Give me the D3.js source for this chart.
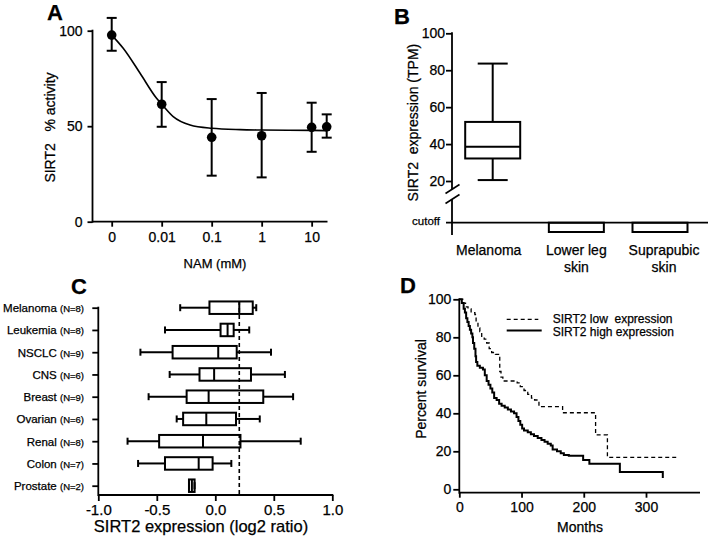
<!DOCTYPE html>
<html><head><meta charset="utf-8">
<script src="https://cdn.jsdelivr.net/npm/d3@7/dist/d3.min.js"></script>
<style>
body{margin:0;background:#fff}
svg{display:block;font-family:"Liberation Sans",Arial,Helvetica,sans-serif}
text{fill:#000;stroke:#000;stroke-width:0.25px}
</style></head><body>
<svg id="chart" width="709" height="536"></svg>
<script>
// ---------- Panel A: SIRT2 activity vs NAM dose ----------
const doseTickLabels = ["0", "0.01", "0.1", "1", "10"];
const doseTickValues = [0, 0.01, 0.1, 1, 10];
const doses = [0, 0.01, 0.1, 1, 10, 20];
const activityMean = [97.7, 61.5, 44.2, 45.0, 49.4, 49.7];
const activityHigh = [106.7, 73.1, 64.2, 67.4, 62.3, 56.2];
const activityLow = [89.5, 49.7, 24.1, 23.2, 36.6, 44.0];
const fitDose = [0, 0.0017, 0.0037, 0.0079, 0.01, 0.017, 0.037, 0.1, 0.37, 1, 10, 20];
const fitActivity = [97.7, 90.8, 77.7, 64.6, 61.5, 55.0, 50.6, 48.9, 48.2, 48.0, 47.8, 47.7];
const activityTicks = [0, 50, 100];

// ---------- Panel B: SIRT2 expression in tissues ----------
const tissueCats = ["Melanoma", "Lower leg skin", "Suprapubic skin"];
const tissueLabelLines = [["Melanoma"], ["Lower leg", "skin"], ["Suprapubic", "skin"]];
const melanomaBox = [20.5, 32.2, 38.6, 52.0, 83.6]; // min, q1, median, q3, max
const belowCutoff = [0, 1, 1];
const tpmTicks = [20, 40, 60, 80, 100];

// ---------- Panel C: NCI-60 log2 ratio ----------
const cancerTypes = ["Melanoma", "Leukemia", "NSCLC", "CNS", "Breast", "Ovarian", "Renal", "Colon", "Prostate"];
const cancerN = [8, 8, 9, 6, 9, 6, 8, 7, 2];
const cMin = [-0.30, -0.43, -0.64, -0.39, -0.57, -0.33, -0.75, -0.66, -0.225];
const cQ1 = [-0.05, 0.045, -0.365, -0.135, -0.245, -0.275, -0.48, -0.43, -0.225];
const cMed = [0.205, 0.105, 0.025, -0.01, -0.057, -0.077, -0.105, -0.142, -0.20];
const cQ3 = [0.32, 0.157, 0.183, 0.305, 0.41, 0.177, 0.215, -0.023, -0.177];
const cMax = [0.35, 0.29, 0.476, 0.595, 0.665, 0.38, 0.73, 0.137, -0.177];
const log2Cutoff = 0.205;
const log2Ticks = [-1.0, -0.5, 0.0, 0.5, 1.0];

// ---------- Panel D: survival ----------
const highMonths = [0, 4, 7, 9, 11, 13, 15, 17, 19, 21, 22, 24, 26, 27, 29, 33, 38, 41, 44, 47, 50, 53, 56, 60, 64, 68, 73, 78, 83, 88, 92, 95, 98, 101, 104, 110, 115, 120, 126, 132, 137, 142, 147, 150, 157, 163, 168, 176, 199, 209, 258, 327];
const highSurv = [100, 98, 95, 93, 90, 88, 86, 84, 82, 80, 77, 74, 70, 67, 65, 64, 63, 60, 57, 55, 53, 51, 48, 47, 45, 44, 43, 42, 41, 40, 38, 36, 34, 32, 31, 30, 29, 28, 27, 26, 25, 24, 23, 21, 20, 19, 18, 17.7, 15.4, 13.5, 9.1, 6.0];
const lowMonths = [0, 6, 10, 14, 19, 25, 27, 30, 33, 36, 40, 44, 48, 52, 58, 65, 67, 70, 93, 98, 104, 110, 116, 121, 128, 166, 219, 238, 352];
const lowSurv = [100, 98, 96, 95, 93, 92, 88, 85, 83, 80, 79, 77, 74, 72, 71, 62, 59, 57, 56, 54, 52, 50, 48, 47, 43.5, 40.3, 28.6, 16.8, 16.8];
const monthTicks = [0, 100, 200, 300];
const survTicks = [0, 20, 40, 60, 80, 100];
const legendLabels = ["SIRT2 low  expression", "SIRT2 high expression"];

const svg = d3.select("#chart");
const AX = 1.8;

function panelLabel(t, x, y) {
  svg.append("text").attr("x", x).attr("y", y).text(t)
    .attr("font-size", 22).attr("font-weight", "bold");
}
function styleAxis(g, fs) {
  g.select(".domain").remove();
  g.selectAll(".tick line").attr("stroke", "#000").attr("stroke-width", AX);
  g.selectAll(".tick text").attr("font-size", fs).attr("fill", "#000").attr("font-family", null);
}

// ================= Panel A =================
(function () {
  const zeroPos = 0.001;
  const x = d3.scaleLog().domain([zeroPos, 20]).range([111.7, 326.7]);
  const xp = d => x(d === 0 ? zeroPos : d);
  const y = d3.scaleLinear().domain([0, 100]).range([221.7, 30.7]);
  const g = svg.append("g");
  g.append("line").attr("x1", 92.5).attr("x2", 92.5).attr("y1", y(100) - 1).attr("y2", y(0) + 1)
    .attr("stroke", "#000").attr("stroke-width", AX);
  g.append("line").attr("x1", 92.5).attr("x2", 327.5).attr("y1", y(0)).attr("y2", y(0))
    .attr("stroke", "#000").attr("stroke-width", AX);
  const ya = g.append("g").attr("transform", "translate(92.5,0)")
    .call(d3.axisLeft(y).tickValues(activityTicks).tickSize(5).tickPadding(5).tickFormat(d3.format("d")));
  styleAxis(ya, 14);
  const xg = g.append("g").attr("transform", `translate(0,${y(0)})`);
  const xaxis = d3.axisBottom(x).tickValues(doseTickValues.map(d => d === 0 ? zeroPos : d))
    .tickSize(5).tickPadding(5).tickFormat((d, i) => doseTickLabels[i]);
  xg.call(xaxis);
  styleAxis(xg, 14);
  const line = d3.line().x((d, i) => xp(fitDose[i])).y((d, i) => y(fitActivity[i])).curve(d3.curveMonotoneX);
  g.append("path").attr("d", line(fitDose)).attr("fill", "none").attr("stroke", "#000").attr("stroke-width", 1.6);
  doses.forEach((d, i) => {
    const cx = xp(d);
    g.append("line").attr("x1", cx).attr("x2", cx).attr("y1", y(activityHigh[i])).attr("y2", y(activityLow[i]))
      .attr("stroke", "#000").attr("stroke-width", 2);
    [activityHigh[i], activityLow[i]].forEach(v => {
      g.append("line").attr("x1", cx - 5).attr("x2", cx + 5).attr("y1", y(v)).attr("y2", y(v))
        .attr("stroke", "#000").attr("stroke-width", 2);
    });
    g.append("circle").attr("cx", cx).attr("cy", y(activityMean[i])).attr("r", 4.8).attr("fill", "#000");
  });
  g.append("text").attr("transform", "translate(55,127.5) rotate(-90)").attr("text-anchor", "middle")
    .attr("font-size", 14).style("white-space", "pre").text("SIRT2   % activity");
  g.append("text").attr("x", 215).attr("y", 268).attr("text-anchor", "middle")
    .attr("font-size", 13).text("NAM (mM)");
  panelLabel("A", 47, 19.5);
})();

// ================= Panel B =================
(function () {
  const x = d3.scalePoint().domain(tissueCats).range([492.7, 660]);
  const y = d3.scaleLinear().domain([20, 100]).range([181, 33.3]);
  const yLow = d3.scaleLinear().domain([1, 0]).range([232, 222.7]);
  const g = svg.append("g");
  const ax = 452;
  g.append("line").attr("x1", ax).attr("x2", ax).attr("y1", y(100) - 1).attr("y2", 189)
    .attr("stroke", "#000").attr("stroke-width", AX);
  g.append("line").attr("x1", ax).attr("x2", ax).attr("y1", 199).attr("y2", 235)
    .attr("stroke", "#000").attr("stroke-width", AX);
  g.append("line").attr("x1", 445.5).attr("x2", 459.5).attr("y1", 193.5).attr("y2", 184.5).attr("stroke", "#000").attr("stroke-width", 1.6);
  g.append("line").attr("x1", 445.5).attr("x2", 459.5).attr("y1", 203.5).attr("y2", 194.5).attr("stroke", "#000").attr("stroke-width", 1.6);
  const ya = g.append("g").attr("transform", `translate(${ax},0)`)
    .call(d3.axisLeft(y).tickValues(tpmTicks).tickSize(6).tickPadding(1));
  styleAxis(ya, 14);
  g.append("line").attr("x1", 446).attr("x2", 708).attr("y1", yLow(0)).attr("y2", yLow(0))
    .attr("stroke", "#000").attr("stroke-width", AX);
  g.append("text").attr("x", 440).attr("y", yLow(0) + 2).attr("text-anchor", "end")
    .attr("font-size", 11.5).text("cutoff");
  const cx = x(tissueCats[0]), bw = 55;
  const [mn, q1, md, q3, mx] = melanomaBox;
  g.append("line").attr("x1", cx).attr("x2", cx).attr("y1", y(mx)).attr("y2", y(q3)).attr("stroke", "#000").attr("stroke-width", 2);
  g.append("line").attr("x1", cx).attr("x2", cx).attr("y1", y(q1)).attr("y2", y(mn)).attr("stroke", "#000").attr("stroke-width", 2);
  [mn, mx].forEach(v => g.append("line").attr("x1", cx - 15).attr("x2", cx + 15).attr("y1", y(v)).attr("y2", y(v)).attr("stroke", "#000").attr("stroke-width", 2));
  g.append("rect").attr("x", cx - bw / 2).attr("y", y(q3)).attr("width", bw).attr("height", y(q1) - y(q3))
    .attr("fill", "none").attr("stroke", "#000").attr("stroke-width", 2);
  g.append("line").attr("x1", cx - bw / 2).attr("x2", cx + bw / 2).attr("y1", y(md)).attr("y2", y(md)).attr("stroke", "#000").attr("stroke-width", 2);
  tissueCats.forEach((c, i) => {
    if (!belowCutoff[i]) return;
    g.append("rect").attr("x", x(c) - bw / 2).attr("y", yLow(0)).attr("width", bw).attr("height", yLow(belowCutoff[i]) - yLow(0))
      .attr("fill", "none").attr("stroke", "#000").attr("stroke-width", 2);
  });
  tissueCats.forEach((c, i) => {
    const lx = x(c) - (i === 0 ? 4 : 0) + (i === 2 ? 4 : 0);
    const t = g.append("text").attr("x", lx).attr("y", 255).attr("text-anchor", "middle").attr("font-size", 14);
    tissueLabelLines[i].forEach((ln, j) => t.append("tspan").attr("x", lx).attr("dy", j ? 17 : 0).text(ln));
  });
  g.append("text").attr("transform", "translate(418,122.6) rotate(-90)").attr("text-anchor", "middle")
    .attr("font-size", 14).style("white-space", "pre").text("SIRT2  expression (TPM)");
  panelLabel("B", 394, 24);
})();

// ================= Panel C =================
(function () {
  const x = d3.scaleLinear().domain([-1, 1]).range([98.3, 332.3]);
  const y = d3.scalePoint().domain(cancerTypes).range([307.7, 485.7]);
  const g = svg.append("g");
  const axY = 495;
  g.append("line").attr("x1", x(-1)).attr("x2", x(-1)).attr("y1", y(cancerTypes[0]) - 1).attr("y2", axY + 1)
    .attr("stroke", "#000").attr("stroke-width", AX);
  g.append("line").attr("x1", x(-1)).attr("x2", x(1) + 1).attr("y1", axY).attr("y2", axY)
    .attr("stroke", "#000").attr("stroke-width", AX);
  const ya = g.append("g").attr("transform", `translate(${x(-1)},0)`)
    .call(d3.axisLeft(y).tickSize(6).tickFormat(""));
  styleAxis(ya, 12);
  const xa = g.append("g").attr("transform", `translate(0,${axY})`)
    .call(d3.axisBottom(x).tickValues(log2Ticks).tickSize(6).tickPadding(3).tickFormat(d3.format(".1f")));
  styleAxis(xa, 15);
  xa.selectAll(".tick text").text(d => d3.format(".1f")(d).replace("−", "-"));
  cancerTypes.forEach((c, i) => {
    const t = g.append("text").attr("x", 84).attr("y", y(c) + 4.5).attr("text-anchor", "end").attr("font-size", 11.5);
    t.append("tspan").text(c + " ");
    t.append("tspan").attr("font-size", 9.5).text(`(N=${cancerN[i]})`);
  });
  const bh = 12.5;
  cancerTypes.forEach((c, i) => {
    const cy = y(c);
    g.append("line").attr("x1", x(cMin[i])).attr("x2", x(cQ1[i])).attr("y1", cy).attr("y2", cy).attr("stroke", "#000").attr("stroke-width", 2);
    g.append("line").attr("x1", x(cQ3[i])).attr("x2", x(cMax[i])).attr("y1", cy).attr("y2", cy).attr("stroke", "#000").attr("stroke-width", 2);
    [cMin[i], cMax[i]].forEach(v => g.append("line").attr("x1", x(v)).attr("x2", x(v)).attr("y1", cy - 3.5).attr("y2", cy + 3.5).attr("stroke", "#000").attr("stroke-width", 2));
    g.append("rect").attr("x", x(cQ1[i])).attr("y", cy - bh / 2).attr("width", x(cQ3[i]) - x(cQ1[i])).attr("height", bh)
      .attr("fill", "none").attr("stroke", "#000").attr("stroke-width", 2);
    g.append("line").attr("x1", x(cMed[i])).attr("x2", x(cMed[i])).attr("y1", cy - bh / 2).attr("y2", cy + bh / 2).attr("stroke", "#000").attr("stroke-width", 2);
  });
  g.append("line").attr("x1", x(log2Cutoff)).attr("x2", x(log2Cutoff)).attr("y1", 301).attr("y2", axY)
    .attr("stroke", "#000").attr("stroke-width", 1.6).attr("stroke-dasharray", "4,3");
  g.append("text").attr("x", 201).attr("y", 532).attr("text-anchor", "middle").attr("font-size", 16.5)
    .text("SIRT2 expression (log2 ratio)");
  panelLabel("C", 71, 294);
})();

// ================= Panel D =================
(function () {
  const x = d3.scaleLinear().domain([0, 300]).range([459.3, 646]);
  const y = d3.scaleLinear().domain([0, 100]).range([489.3, 299.3]);
  const g = svg.append("g");
  const axY = 492.7;
  g.append("line").attr("x1", x(0)).attr("x2", x(0)).attr("y1", y(100) - 1).attr("y2", axY + 1)
    .attr("stroke", "#000").attr("stroke-width", AX);
  g.append("line").attr("x1", x(0)).attr("x2", 700).attr("y1", axY).attr("y2", axY)
    .attr("stroke", "#000").attr("stroke-width", AX);
  const ya = g.append("g").attr("transform", `translate(${x(0)},0)`)
    .call(d3.axisLeft(y).tickValues(survTicks).tickSize(6).tickPadding(2));
  styleAxis(ya, 14);
  const xa = g.append("g").attr("transform", `translate(0,${axY})`)
    .call(d3.axisBottom(x).tickValues(monthTicks).tickSize(5).tickPadding(4));
  styleAxis(xa, 14);
  const line = d3.line().curve(d3.curveStepAfter);
  g.append("path").attr("d", line(lowMonths.map((m, i) => [x(m), y(lowSurv[i])])))
    .attr("fill", "none").attr("stroke", "#000").attr("stroke-width", 1.3).attr("stroke-dasharray", "4,3");
  g.append("path").attr("d", line(highMonths.map((m, i) => [x(m), y(highSurv[i])])))
    .attr("fill", "none").attr("stroke", "#000").attr("stroke-width", 2);
  g.append("line").attr("x1", 506.7).attr("x2", 538.3).attr("y1", 319.3).attr("y2", 319.3)
    .attr("stroke", "#000").attr("stroke-width", 1.3).attr("stroke-dasharray", "4,3");
  g.append("line").attr("x1", 506.7).attr("x2", 541.7).attr("y1", 330.5).attr("y2", 330.5)
    .attr("stroke", "#000").attr("stroke-width", 2);
  legendLabels.forEach((t, i) => g.append("text").attr("x", 552.7).attr("y", 322.5 + i * 13.5)
    .attr("font-size", 12).style("white-space", "pre").text(t));
  g.append("text").attr("transform", "translate(426,389) rotate(-90)").attr("text-anchor", "middle")
    .attr("font-size", 14).text("Percent survival");
  g.append("text").attr("x", 580).attr("y", 532).attr("text-anchor", "middle")
    .attr("font-size", 14).text("Months");
  panelLabel("D", 400, 293);
})();
</script>
</body></html>
